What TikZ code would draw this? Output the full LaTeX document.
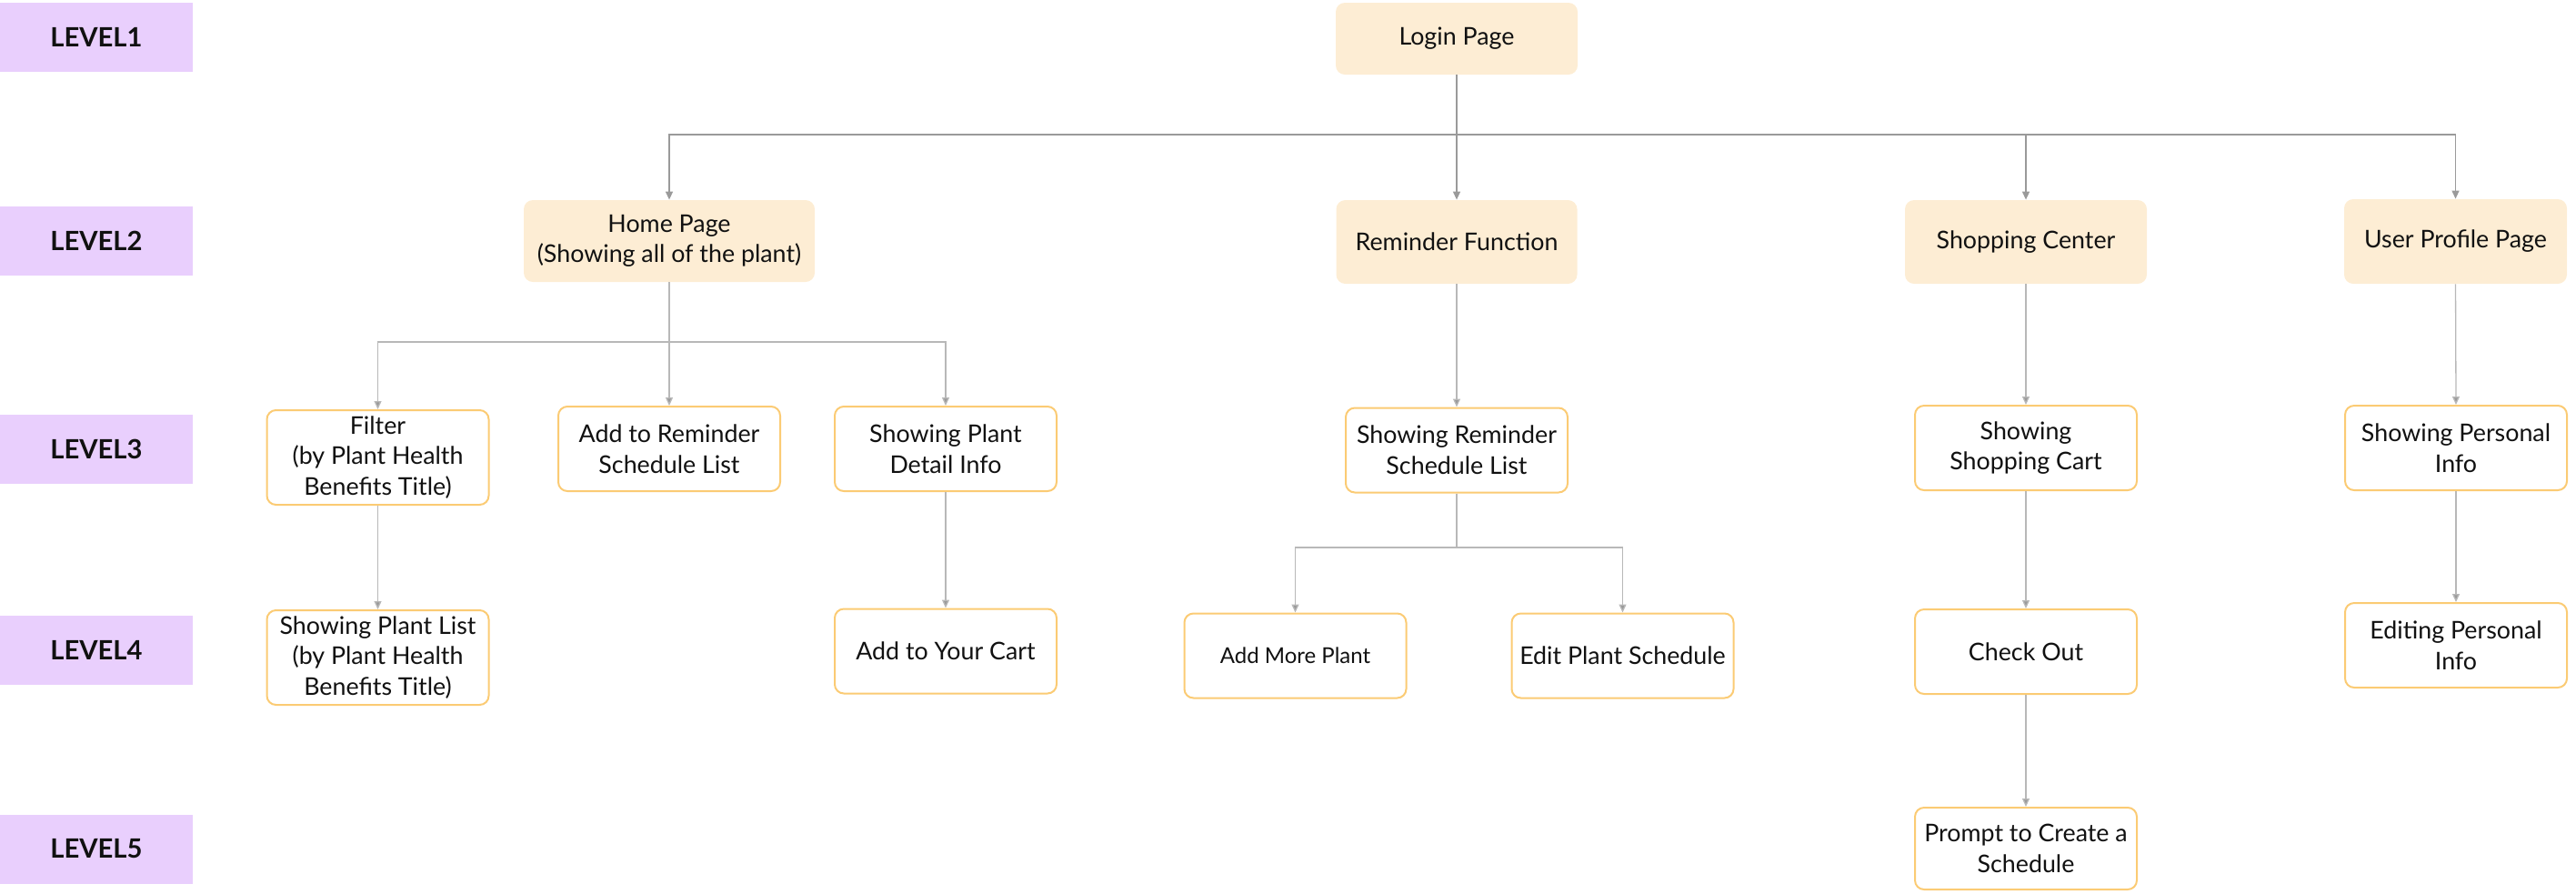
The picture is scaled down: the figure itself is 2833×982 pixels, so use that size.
\documentclass[tikz,border=0pt]{standalone}
\usepackage{fontspec}
\setmainfont{Lato}
\usetikzlibrary{arrows.meta}
\definecolor{lvl}{HTML}{E9CFFD}
\definecolor{peach}{HTML}{FDEDD4}
\definecolor{bord}{HTML}{FBCB74}
\definecolor{ln}{HTML}{9A9A9A}
\definecolor{lnl}{HTML}{B8B8B8}
\definecolor{txt}{HTML}{111111}
\begin{document}
\begin{tikzpicture}[x=0.5pt,y=-0.5pt,
  lvlbox/.style={fill=lvl, minimum width=106pt, minimum height=38pt, inner sep=0pt, text=txt,
    font=\fontsize{14.6}{17}\selectfont\bfseries},
  topbox/.style={fill=peach, rounded corners=5pt, inner sep=0pt, align=center, text=txt,
    font=\fontsize{13.4}{16.5}\selectfont},
  subbox/.style={draw=bord, line width=1pt, fill=white, rounded corners=5pt, inner sep=0pt,
    align=center, text=txt, minimum width=122pt, minimum height=46.5pt,
    font=\fontsize{13.4}{16.8}\selectfont},
  tall/.style={minimum height=52pt},
  arr/.style={draw=lnl, line width=0.65pt, -{Triangle[width=4pt,length=4.5pt,fill=ln]}},
  arrd/.style={arr, draw=ln}]
\useasboundingbox (0,0) rectangle (2833,982);

% level labels
\node[lvlbox] (L1) at (106,41) {LEVEL1};
\node[lvlbox] (L2) at (106,265) {LEVEL2};
\node[lvlbox] (L3) at (106,494) {LEVEL3};
\node[lvlbox] (L4) at (106,715) {LEVEL4};
\node[lvlbox] (L5) at (106,933.5) {LEVEL5};

% level 1-2
\node[topbox, minimum width=133pt, minimum height=39.5pt] (login) at (1602,42.5) {Login Page};
\node[topbox, minimum width=160pt, minimum height=45pt] (home) at (736,265) {Home Page\\(Showing all of the plant)};
\node[topbox, minimum width=132.5pt, minimum height=46pt] (remf) at (1602,266) {Reminder Function};
\node[topbox, minimum width=133pt, minimum height=46pt] (shop) at (2228,266) {Shopping Center};
\node[topbox, minimum width=122.5pt, minimum height=46.5pt] (user) at (2700.5,265.5) {User Profile Page};

% level 3
\node[subbox, tall] (filter) at (415.5,503) {Filter\\(by Plant Health\\Benefits Title)};
\node[subbox] (addrem) at (736,493.5) {Add to Reminder\\Schedule List};
\node[subbox] (detail) at (1040,493.5) {Showing Plant\\Detail Info};
\node[subbox] (showrem) at (1602,495) {Showing Reminder\\Schedule List};
\node[subbox] (cart) at (2228,492.5) {Showing\\Shopping Cart};
\node[subbox] (pinfo) at (2701,492.5) {Showing Personal\\Info};

% level 4
\node[subbox, tall] (plist) at (415.5,723) {Showing Plant List\\(by Plant Health\\Benefits Title)};
\node[subbox] (yourcart) at (1040,716) {Add to Your Cart};
\node[subbox, font=\fontsize{12}{15}\selectfont] (addmore) at (1424.5,721) {Add More Plant};
\node[subbox] (editsch) at (1784.5,721) {Edit Plant Schedule};
\node[subbox] (checkout) at (2228,716.5) {Check Out};
\node[subbox] (editinfo) at (2701,709.5) {Editing Personal\\Info};

% level 5
\node[subbox, minimum height=45pt] (prompt) at (2228,933) {Prompt to Create a\\Schedule};

% bus coordinates
\coordinate (topbar) at (0,148);
\coordinate (hbar) at (0,376);
\coordinate (rbar) at (0,602);

% connectors from login
\draw[arrd] (login.south) -- (remf.north);
\draw[arrd] (login.south) |- (topbar -| home.north) -- (home.north);
\draw[arrd] (login.south) |- (topbar -| shop.north) -- (shop.north);
\draw[arrd] (login.south) |- (topbar -| user.north) -- (user.north);

% home page
\draw[arr] (home.south) -- (addrem.north);
\draw[arr] (home.south) |- (hbar -| filter.north) -- (filter.north);
\draw[arr] (home.south) |- (hbar -| detail.north) -- (detail.north);
\draw[arr] (filter.south) -- (plist.north);
\draw[arr] (detail.south) -- (yourcart.north);

% reminder
\draw[arr] (remf.south) -- (showrem.north);
\draw[arr] (showrem.south) |- (rbar -| addmore.north) -- (addmore.north);
\draw[arr] (showrem.south) |- (rbar -| editsch.north) -- (editsch.north);

% shopping
\draw[arr] (shop.south) -- (cart.north);
\draw[arr] (cart.south) -- (checkout.north);
\draw[arr] (checkout.south) -- (prompt.north);

% user profile
\draw[arr] (user.south) -- (pinfo.north);
\draw[arr] (pinfo.south) -- (editinfo.north);
\end{tikzpicture}
\end{document}
